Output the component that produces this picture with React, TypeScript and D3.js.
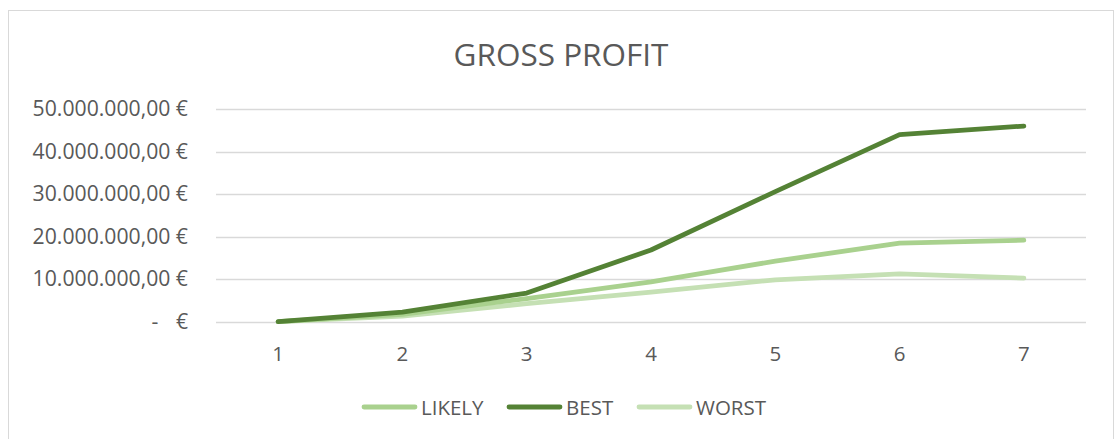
import { useEffect, useRef } from 'react'
import * as d3 from 'd3'

const categories = ['1', '2', '3', '4', '5', '6', '7']
const likely = [0.1, 1.8, 5.5, 9.4, 14.3, 18.5, 19.2]
const best = [0.1, 2.3, 6.8, 16.9, 30.6, 44.0, 46.0]
const worst = [0.1, 1.4, 4.3, 7.0, 9.9, 11.3, 10.3]
const yTicks = [0, 10, 20, 30, 40, 50]

const series = [
  { name: 'LIKELY', values: likely, color: '#A9D18E' },
  { name: 'BEST', values: best, color: '#548235' },
  { name: 'WORST', values: worst, color: '#C5E0B4' },
]

const fmt = (v: number) => {
  const s = d3.format(',')(v * 1000000).replace(/,/g, '.')
  return `${s},00 €`
}

export default function App() {
  const ref = useRef<SVGSVGElement>(null)

  useEffect(() => {
    if (!ref.current) return
    const width = 1115
    const height = 439
    const margin = { top: 109, right: 29, bottom: 117, left: 216 }
    const font = "'Open Sans', sans-serif"
    const textColor = '#595959'
    const fs = '20.5px'

    const svg = d3.select(ref.current)
    svg.selectAll('*').remove()

    svg
      .append('rect')
      .attr('x', 8.5)
      .attr('y', 10.5)
      .attr('width', 1105)
      .attr('height', 450)
      .attr('fill', '#fff')
      .attr('stroke', '#D9D9D9')

    const x = d3
      .scaleBand()
      .domain(categories)
      .range([margin.left, width - margin.right])
      .padding(0)
    const y = d3
      .scaleLinear()
      .domain([0, 50])
      .range([height - margin.bottom, margin.top])

    svg
      .append('text')
      .attr('x', 561)
      .attr('y', 66)
      .attr('text-anchor', 'middle')
      .style('font-family', font)
      .style('font-size', '31.5px')
      .style('fill', textColor)
      .text('GROSS PROFIT')

    svg
      .append('g')
      .selectAll('line')
      .data(yTicks)
      .join('line')
      .attr('x1', margin.left)
      .attr('x2', width - margin.right)
      .attr('y1', (d) => Math.round(y(d)) + 0.5)
      .attr('y2', (d) => Math.round(y(d)) + 0.5)
      .attr('stroke', '#D9D9D9')
      .attr('stroke-width', 1.3)

    const yl = svg.append('g').style('font-family', font).style('font-size', '21.2px').style('fill', textColor)
    yl.selectAll('text')
      .data(yTicks.filter((d) => d > 0))
      .join('text')
      .attr('x', 188)
      .attr('y', (d) => y(d) + 7)
      .attr('text-anchor', 'end')
      .text((d) => fmt(d))
    yl.append('text').attr('x', 188).attr('y', y(0) + 7).attr('text-anchor', 'end').text('€')
    yl.append('text').attr('x', 155).attr('y', y(0) + 7).attr('text-anchor', 'middle').text('-')

    svg
      .append('g')
      .selectAll('text')
      .data(categories)
      .join('text')
      .attr('x', (d) => (x(d) || 0) + x.bandwidth() / 2)
      .attr('y', 361)
      .attr('text-anchor', 'middle')
      .style('font-family', font)
      .style('font-size', fs)
      .style('fill', textColor)
      .text((d) => d)

    const line = d3
      .line<number>()
      .x((_, i) => (x(categories[i]) || 0) + x.bandwidth() / 2)
      .y((d) => y(d))

    const drawOrder = [series[2], series[0], series[1]]
    svg
      .append('g')
      .selectAll('path')
      .data(drawOrder)
      .join('path')
      .attr('d', (s) => line(s.values))
      .attr('fill', 'none')
      .attr('stroke', (s) => s.color)
      .attr('stroke-width', 4.8)
      .attr('stroke-linecap', 'round')
      .attr('stroke-linejoin', 'round')

    const legendX = [362, 507, 637]
    const lg = svg
      .append('g')
      .selectAll('g')
      .data(series)
      .join('g')
      .attr('transform', (_, i) => `translate(${legendX[i]},407)`)
    lg.append('line')
      .attr('x1', 2)
      .attr('x2', 53)
      .attr('stroke', (s) => s.color)
      .attr('stroke-width', 4.8)
      .attr('stroke-linecap', 'round')
    lg.append('text')
      .attr('x', 59)
      .attr('y', 7.5)
      .style('font-family', font)
      .style('font-size', fs)
      .style('fill', textColor)
      .text((s) => s.name)
  }, [])

  return (
    <svg
      ref={ref}
      width={1115}
      height={439}
      style={{ position: 'absolute', left: 0, top: 0, background: '#fff' }}
    />
  )
}
